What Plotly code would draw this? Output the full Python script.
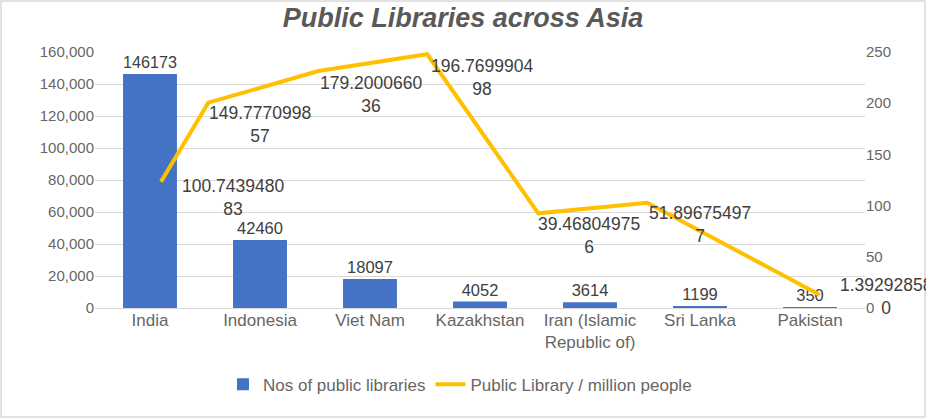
import plotly.graph_objects as go

# ---- data ----
countries = ["India", "Indonesia", "Viet Nam", "Kazakhstan",
             "Iran (Islamic<br>Republic of)", "Sri Lanka", "Pakistan"]
libraries = [146173, 42460, 18097, 4052, 3614, 1199, 350]

# line as drawn in the picture (category-unit x, right-axis y)
line_x = [0.10, 0.53, 1.53, 2.52, 3.53, 4.52, 6.09]
line_y = [123.3, 200.5, 231.4, 247.8, 92.5, 102.8, 12.7]
line_labels = ["100.7439480<br>83", "149.7770998<br>57", "179.2000660<br>36",
               "196.7699904<br>98", "39.46804975<br>6", "51.89675497<br>7",
               "1.39292858<br>0"]

left_ticks = [0, 20000, 40000, 60000, 80000, 100000, 120000, 140000, 160000]
right_ticks = [0, 50, 100, 150, 200, 250]

# label nudges (pixels), style only
label_xshift = [19, -1, 0, 2, -2, 0, 18]
label_yshift = [8, 2, 0, 0, 1, 2, 22]

BAR = "#4472C4"
LINE = "#FFC000"
TXT = "#595959"
TICK = "#666666"
LBL = "#404040"
FONT = "Liberation Sans, Arial, sans-serif"

fig = go.Figure()
fig.add_trace(go.Bar(
    x=countries, y=libraries, name="Nos of public libraries",
    marker=dict(color=BAR, line=dict(width=0)),
    text=[str(v) for v in libraries], textposition="outside",
    textfont=dict(color=LBL, size=16.5, family=FONT),
    cliponaxis=False,
))
fig.add_trace(go.Scatter(
    x=line_x, y=line_y, name="Public Library / million people",
    mode="lines", line=dict(color=LINE, width=4),
    xaxis="x2", yaxis="y2",
))

for xv, yv, t, dx, dy in zip(line_x, line_y, line_labels,
                             label_xshift, label_yshift):
    fig.add_annotation(
        x=xv, y=yv, xref="x2", yref="y2", text=t, showarrow=False,
        xanchor="left", yanchor="top", align="center",
        xshift=dx, yshift=dy,
        font=dict(color=LBL, size=17.5, family=FONT),
    )

fig.update_layout(
    width=926, height=418,
    margin=dict(l=95, r=61, t=52, b=110),
    paper_bgcolor="white", plot_bgcolor="white",
    font=dict(family=FONT, color=TXT, size=15),
    title=dict(text="<b><i>Public Libraries across Asia</i></b>",
               x=0.5, xanchor="center", y=0.958, yanchor="middle",
               font=dict(size=27, color=TXT, family=FONT)),
    bargap=0.51,
    showlegend=True,
    legend=dict(orientation="h", x=0.474, xanchor="center", y=-0.30,
                yanchor="middle", font=dict(size=17, color=TICK),
                itemwidth=30, tracegroupgap=0),
    xaxis=dict(showgrid=False, zeroline=False, showline=False, ticks="",
               tickfont=dict(size=17, color=TICK)),
    xaxis2=dict(overlaying="x", anchor="y2", range=[-0.5, 6.5],
                visible=False),
    yaxis=dict(range=[0, 160000], tickvals=left_ticks, tickformat=",",
               showgrid=True, gridcolor="#D9D9D9", gridwidth=1,
               zeroline=True, zerolinecolor="#D9D9D9", zerolinewidth=1,
               showline=False, ticks="", tickfont=dict(size=15, color=TICK)),
    yaxis2=dict(range=[0, 250], tickvals=right_ticks, overlaying="y",
                side="right", anchor="x2", showgrid=False, zeroline=False,
                showline=False, ticks="", tickfont=dict(size=15, color=TICK)),
    shapes=[dict(type="rect", xref="paper", yref="paper",
                 x0=-0.122, x1=1.0779, y0=-0.4258, y1=1.199,
                 line=dict(color="#D9D9D9", width=1.5), layer="below")],
)

fig.write_html("out.html",
               config={"displayModeBar": False},
               post_script="document.body.style.margin='0';"
                           "document.body.style.overflow='hidden';")
